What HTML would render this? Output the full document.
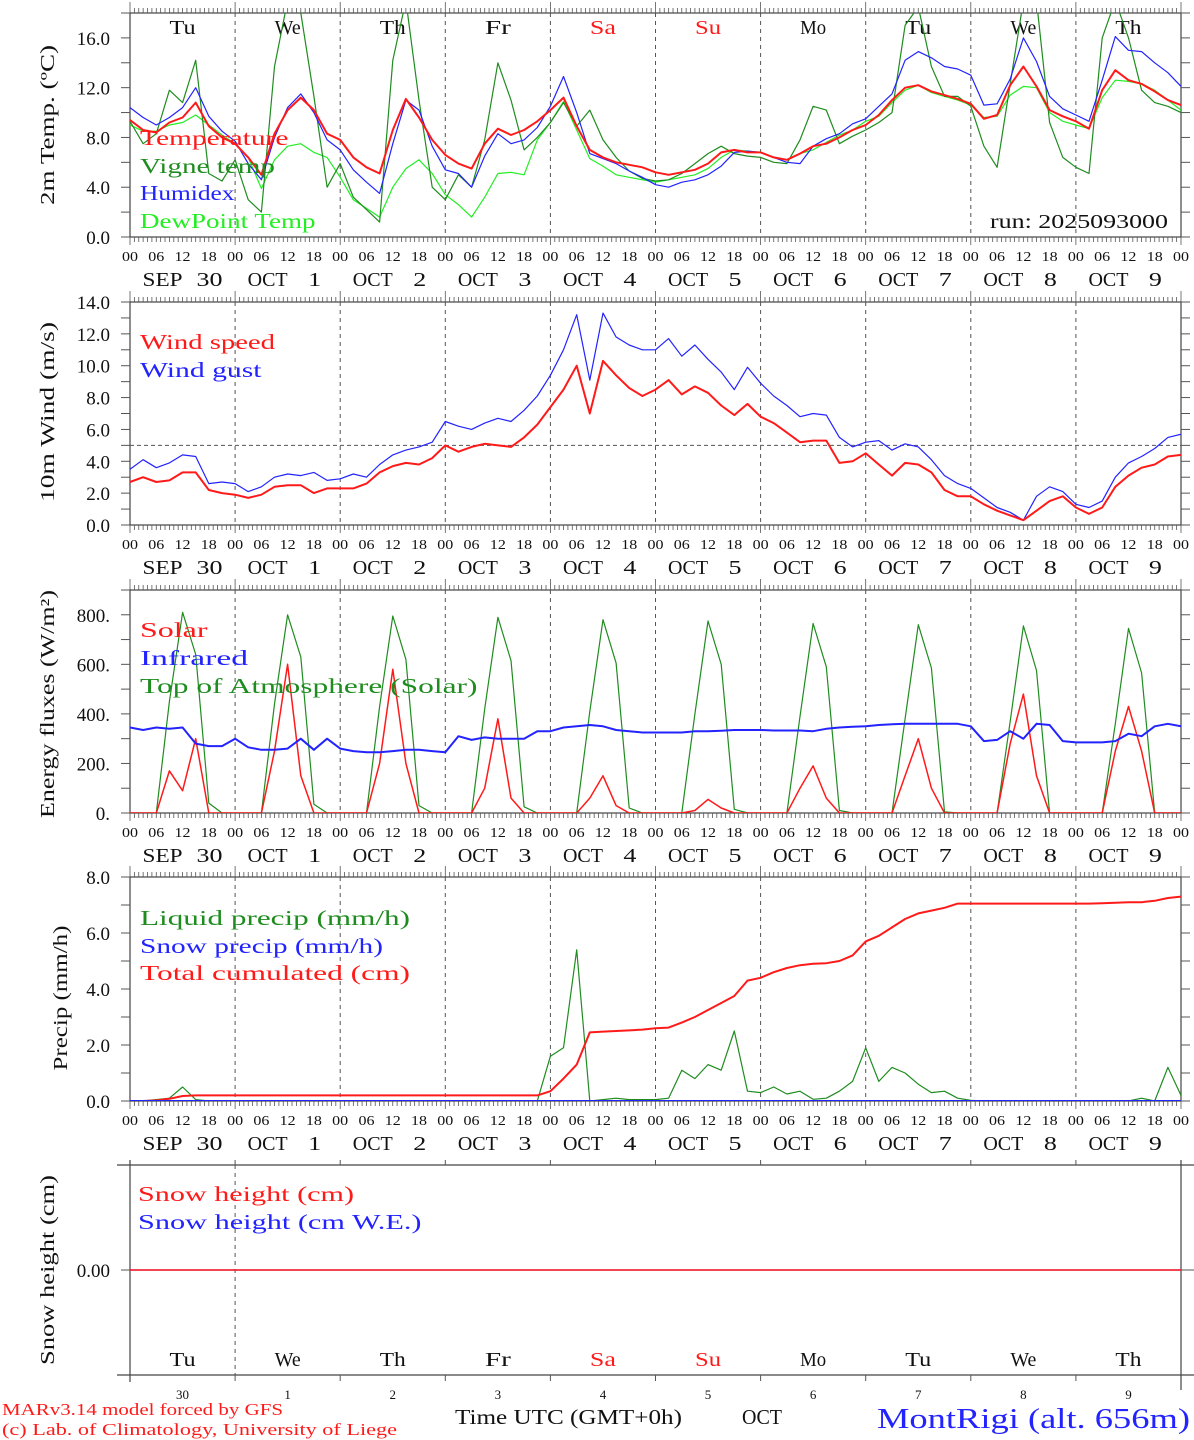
<!DOCTYPE html>
<html><head><meta charset="utf-8"><title>MAR forecast MontRigi</title>
<style>html,body{margin:0;padding:0;background:#fff}svg{display:block}text{font-family:"Liberation Serif",serif}</style>
</head><body>
<svg id="chart" xmlns="http://www.w3.org/2000/svg" width="1194" height="1440" viewBox="0 0 1194 1440"></svg>
<script>
// ---- data (3-hourly, t = 0..240 h) ----
const hours = [0,3,6,9,12,15,18,21,24,27,30,33,36,39,42,45,48,51,54,57,60,63,66,69,72,75,78,81,84,87,90,93,96,99,102,105,108,111,114,117,120,123,126,129,132,135,138,141,144,147,150,153,156,159,162,165,168,171,174,177,180,183,186,189,192,195,198,201,204,207,210,213,216,219,222,225,228,231,234,237,240];
const dayNames = ["Tu","We","Th","Fr","Sa","Su","Mo","Tu","We","Th"];
const dayMonths = ["SEP","OCT","OCT","OCT","OCT","OCT","OCT","OCT","OCT","OCT"];
const dayNums = ["30","1","2","3","4","5","6","7","8","9"];
const hourTicks = ["00","06","12","18"];
const tempTicks = [0,4,8,12,16];
const windTicks = [0,2,4,6,8,10,12,14];
const fluxTicks = [0,200,400,600,800];
const precipTicks = [0,2,4,6,8];
const temperature = [9.4,8.6,8.4,9.2,9.6,10.8,8.9,8.0, 7.5,6.4,5.0,8.3,10.2,11.2,10.2,8.3, 7.8,6.4,5.6,5.1,8.6,11.1,9.6,7.8, 6.6,5.9,5.5,7.5,8.7,8.2,8.6,9.3, 10.2,11.2,8.9,7.0,6.4,6.0,5.8,5.6, 5.2,5.0,5.2,5.4,5.9,6.8,7.0,6.8, 6.8,6.4,6.2,6.7,7.3,7.5,8.0,8.6, 9.0,9.8,11.0,12.0,12.2,11.7,11.4,11.1, 10.7,9.5,9.8,12.2,13.7,12.1,10.2,9.7, 9.3,8.7,11.8,13.4,12.6,12.3,11.7,11.0, 10.6];
const vigneTemp = [9.3,7.5,8.3,11.8,10.8,14.2,5.1,4.5, 6.2,3.0,2.0,13.7,19,18.0,11.3,4.0, 5.9,3.2,2.2,1.2,14.2,19,11.0,4.0, 3.0,5.0,4.0,7.8,14.0,11.0,7.0,8.0, 9.2,10.8,8.9,10.2,7.8,6.4,5.3,4.7, 4.5,4.6,5.1,5.9,6.7,7.3,6.7,6.5, 6.4,6.0,5.9,7.8,10.5,10.2,7.5,8.1, 8.6,9.2,10.0,17.0,18.5,13.7,11.3,11.3, 10.5,7.3,5.6,12.3,19,19,9.2,6.4, 5.6,5.1,16,19,16,11.8,10.8,10.5, 10.0];
const humidex = [10.4,9.6,9.0,9.6,10.4,12.0,9.7,8.5, 7.7,5.9,4.6,8.0,10.4,11.5,10.0,7.8, 7.0,5.4,4.4,3.5,7.5,11.0,10.2,7.3, 5.4,5.1,4.0,6.5,8.3,7.5,7.8,8.8, 10.5,12.9,10.0,6.7,6.3,5.9,5.3,4.8, 4.2,4.0,4.4,4.6,5.0,5.7,6.8,6.9, 6.8,6.4,6.0,5.9,7.3,7.9,8.3,9.1, 9.5,10.5,11.5,14.2,14.9,14.4,13.7,13.5, 13.0,10.6,10.7,12.7,16.0,14.1,11.3,10.3, 9.8,9.3,12.6,16.1,15.0,14.9,14.0,13.2, 12.1];
const dewPoint = [9.0,8.5,8.5,9.0,9.2,9.8,9.0,8.2, 7.5,6.4,3.9,6.2,7.3,7.5,6.8,6.4, 4.8,3.0,2.3,1.6,4.0,5.5,6.2,5.1, 3.4,2.6,1.6,3.2,5.1,5.2,5.0,7.8, 9.2,10.9,8.6,6.3,5.7,5.0,4.8,4.6, 4.4,4.6,4.8,5.0,5.5,6.4,7.0,6.9, 6.8,6.4,6.2,6.7,7.0,7.6,8.2,8.6, 9.3,9.7,10.8,11.8,12.2,11.6,11.3,11.0, 10.6,9.6,9.7,11.4,12.1,12.0,10.0,9.3, 9.0,8.7,11.2,12.6,12.5,12.3,11.8,11.0, 10.2];
const windSpeed = [2.7,3.0,2.7,2.8,3.3,3.3,2.2,2.0, 1.9,1.7,1.9,2.4,2.5,2.5,2.0,2.3, 2.3,2.3,2.6,3.3,3.7,3.9,3.8,4.2, 5.0,4.6,4.9,5.1,5.0,4.9,5.5,6.3, 7.4,8.5,10.0,7.0,10.3,9.4,8.6,8.1, 8.5,9.1,8.2,8.7,8.3,7.5,6.9,7.6, 6.8,6.4,5.8,5.2,5.3,5.3,3.9,4.0, 4.5,3.8,3.1,3.9,3.8,3.3,2.2,1.8, 1.8,1.3,0.9,0.6,0.3,0.9,1.5,1.8, 1.1,0.7,1.1,2.4,3.1,3.6,3.8,4.3, 4.4];
const windGust = [3.5,4.1,3.6,3.9,4.4,4.3,2.6,2.7, 2.6,2.1,2.4,3.0,3.2,3.1,3.3,2.8, 2.9,3.2,3.0,3.8,4.4,4.7,4.9,5.2, 6.5,6.2,6.0,6.4,6.7,6.5,7.2,8.1, 9.4,11.0,13.2,9.1,13.3,11.8,11.3,11.0, 11.0,11.7,10.6,11.3,10.4,9.6,8.5,9.9, 8.9,8.1,7.5,6.8,7.0,6.9,5.5,4.9, 5.2,5.3,4.7,5.1,4.9,4.1,3.1,2.6, 2.3,1.7,1.1,0.8,0.3,1.8,2.4,2.1, 1.3,1.1,1.5,3.0,3.9,4.3,4.8,5.5, 5.7];
const solar = [0,0,0,170,90,300,0,0, 0,0,0,250,600,150,0,0, 0,0,0,200,580,200,0,0, 0,0,0,100,380,60,0,0, 0,0,0,60,150,30,0,0, 0,0,0,10,55,20,0,0, 0,0,0,100,190,60,0,0, 0,0,0,150,300,100,0,0, 0,0,0,280,480,150,0,0, 0,0,0,250,430,250,0,0, 0];
const infrared = [345,335,345,340,345,280,270,270, 300,265,255,255,260,300,255,300, 260,250,245,245,250,255,255,250, 245,310,295,305,300,300,300,330, 330,345,350,355,350,335,330,325, 325,325,325,330,330,332,335,335, 335,333,333,333,330,340,345,348, 350,355,358,360,360,360,360,360, 350,290,295,330,300,360,355,290, 285,285,285,290,320,310,350,360, 350];
const toaSolar = [0,0,0,450,810,640,40,0, 0,0,0,440,800,630,35,0, 0,0,0,430,795,620,30,0, 0,0,0,420,790,615,25,0, 0,0,0,410,780,605,20,0, 0,0,0,400,775,600,15,0, 0,0,0,390,765,590,10,0, 0,0,0,380,760,585,5,0, 0,0,0,370,755,575,0,0, 0,0,0,360,745,565,0,0, 0];
const liquidPrecip = [0,0,0.05,0.1,0.5,0.05,0,0, 0,0,0,0,0,0,0,0, 0,0,0,0,0,0,0,0, 0,0,0,0,0,0,0,0, 1.6,1.9,5.4,0,0.05,0.1,0.05,0.05, 0.05,0.1,1.1,0.8,1.3,1.1,2.5,0.35, 0.3,0.5,0.25,0.35,0.06,0.1,0.35,0.7, 1.9,0.7,1.2,1.0,0.6,0.3,0.35,0.1, 0.02,0,0,0,0,0,0,0, 0,0,0,0,0,0.1,0,1.2, 0.2];
const snowPrecip = [0,0,0,0,0,0,0,0, 0,0,0,0,0,0,0,0, 0,0,0,0,0,0,0,0, 0,0,0,0,0,0,0,0, 0,0,0,0,0,0,0,0, 0,0,0,0,0,0,0,0, 0,0,0,0,0,0,0,0, 0,0,0,0,0,0,0,0, 0,0,0,0,0,0,0,0, 0,0,0,0,0,0,0,0, 0];
const totalCumulated = [0,0,0.02,0.08,0.18,0.2,0.2,0.2, 0.2,0.2,0.2,0.2,0.2,0.2,0.2,0.2, 0.2,0.2,0.2,0.2,0.2,0.2,0.2,0.2, 0.2,0.2,0.2,0.2,0.2,0.2,0.2,0.2, 0.35,0.8,1.3,2.45,2.48,2.5,2.52,2.55, 2.6,2.62,2.8,3.0,3.25,3.5,3.75,4.3, 4.4,4.6,4.75,4.85,4.9,4.92,5.0,5.2, 5.7,5.9,6.2,6.5,6.7,6.8,6.9,7.05, 7.05,7.05,7.05,7.05,7.05,7.05,7.05,7.05, 7.05,7.05,7.06,7.08,7.1,7.1,7.15,7.25, 7.3];
const snowHeight = [0,0,0,0,0,0,0,0, 0,0,0,0,0,0,0,0, 0,0,0,0,0,0,0,0, 0,0,0,0,0,0,0,0, 0,0,0,0,0,0,0,0, 0,0,0,0,0,0,0,0, 0,0,0,0,0,0,0,0, 0,0,0,0,0,0,0,0, 0,0,0,0,0,0,0,0, 0,0,0,0,0,0,0,0, 0];

const NS = "http://www.w3.org/2000/svg";
const svg = document.getElementById("chart");
const X0 = 130, X1 = 1181, HSPAN = 240;
function xs(t){ return X0 + t*(X1-X0)/HSPAN; }
function mkY(bot, top, min, max){ return v => bot - (v-min)*(bot-top)/(max-min); }
function el(tag, attrs, parent){
  const e = document.createElementNS(NS, tag);
  for (const k in attrs) e.setAttribute(k, attrs[k]);
  (parent||svg).appendChild(e);
  return e;
}
function txt(x, y, s, size, color, anchor, len, parent){
  const a = {x:x, y:y, "font-size":size, fill:color||"#000", "text-anchor":anchor||"start"};
  if (len) { a.textLength = len; a.lengthAdjust = "spacingAndGlyphs"; }
  const e = el("text", a, parent);
  e.textContent = s;
  return e;
}
const RED="#ff1a1a", DKGREEN="#1f8c1f", BLUE="#2323ff", LTGREEN="#22ee22";

function frame(name, top, bot){
  const g = el("g", {});
  
  
  el("rect", {x:X0, y:top, width:X1-X0, height:bot-top, fill:"none", stroke:"#444", "stroke-width":1.2}, g);
  for (let h=0; h<=HSPAN; h++){
    const x = xs(h), major = h%24===0;
    el("line", {x1:x, x2:x, y1:top, y2:top-(major?11:5), stroke:"#555", "stroke-width":0.8}, g);
    el("line", {x1:x, x2:x, y1:bot, y2:bot+(major?8:5), stroke:"#555", "stroke-width":0.8}, g);
  }
  for (let d=1; d<10; d++){
    el("line", {x1:xs(d*24), x2:xs(d*24), y1:top, y2:bot, stroke:"#555", "stroke-width":1, "stroke-dasharray":"4,4"}, g);
  }
  return g;
}
function yaxis(name, ticks, minorStep, y, min, max, fmt, top, bot){
  const g = el("g", {});
  
  
  for (let v=min; v<=max+1e-9; v+=minorStep){
    el("line", {x1:X0-9, x2:X0, y1:y(v), y2:y(v), stroke:"#555", "stroke-width":1}, g);
    el("line", {x1:X1, x2:X1+9, y1:y(v), y2:y(v), stroke:"#555", "stroke-width":1}, g);
  }
  ticks.forEach(v => { txt(110, y(v)+7, fmt(v), 19, "#111", "end", null, g); });
  return g;
}
function timeLabels(name, bot){
  const g = el("g", {});
  
  
  for (let h=0; h<=HSPAN; h+=6){
    txt(xs(h), bot+24, hourTicks[(h/6)%4], 14, "#111", "middle", 16, g);
  }
  for (let d=0; d<10; d++){
    const c = xs(d*24+12);
    txt(c-20, bot+49, dayMonths[d], 20, "#111", "middle", 40, g);
    txt(c+27, bot+49, dayNums[d], 20, "#111", "middle", dayNums[d].length*13, g);
  }
  return g;
}
function series(name, vals, y, color, w, clip){
  let d = "";
  vals.forEach((v,i) => { d += (i?"L":"M") + xs(hours[i]).toFixed(1) + "," + y(v).toFixed(1); });
  const p = el("path", {d:d, fill:"none", stroke:color, "stroke-width":w, "stroke-linejoin":"round"});
  if (clip) p.setAttribute("clip-path", "url(#"+clip+")");
  
  
  return p;
}
function legend(name, x, y, s, color){
  const t = txt(x, y, s, 21, color, "start", s.length*13.5);
  
  
  return t;
}
function ytitle(name, cx, cy, s, len){
  const t = txt(cx, cy+7, s, 20, "#111", "middle", len);
  t.setAttribute("transform", "rotate(-90 "+cx+" "+cy+")");
  
  
  return t;
}
const defs = el("defs", {});
function clipRect(id, top, bot){
  const c = el("clipPath", {id:id}, defs);
  el("rect", {x:X0, y:top, width:X1-X0, height:bot-top}, c);
}

// ---- Panel 1: temperature ----
const y1 = mkY(237, 13, 0, 18);
clipRect("c1", 13, 237);
frame("temperature-panel", 13, 237);
yaxis("temperature-y-axis", tempTicks, 2, y1, 0, 18, v=>v.toFixed(1), 13, 237);
timeLabels("temperature-x-axis", 237);
for (let d=0; d<10; d++){
  const t = txt(xs(d*24+12), 34, dayNames[d], 20, (d===4||d===5)?RED:"#111", "middle", 26);
  
  
}
series("dewpoint-line", dewPoint, y1, LTGREEN, 1.2, "c1");
series("vigne-temp-line", vigneTemp, y1, DKGREEN, 1.2, "c1");
series("humidex-line", humidex, y1, BLUE, 1.2, "c1");
series("temperature-line", temperature, y1, RED, 2, "c1");
legend("legend-temperature", 140, 145, "Temperature", RED);
legend("legend-vigne-temp", 140, 173, "Vigne temp", DKGREEN);
legend("legend-humidex", 140, 200, "Humidex", BLUE);
legend("legend-dewpoint", 140, 228, "DewPoint Temp", LTGREEN);
const run = txt(990, 228, "run: 2025093000", 20, "#111", "start", 178);


ytitle("temperature-y-title", 47, 125, "2m Temp. (ºC)", 160);

// ---- Panel 2: wind ----
const y2 = mkY(525, 302, 0, 14);
clipRect("c2", 302, 525);
frame("wind-panel", 302, 525);
const ref = el("line", {x1:X0, x2:X1, y1:y2(5), y2:y2(5), stroke:"#555", "stroke-width":1, "stroke-dasharray":"4,3"});


yaxis("wind-y-axis", windTicks, 1, y2, 0, 14, v=>v.toFixed(1), 302, 525);
timeLabels("wind-x-axis", 525);
series("wind-gust-line", windGust, y2, BLUE, 1.2, "c2");
series("wind-speed-line", windSpeed, y2, RED, 2, "c2");
legend("legend-wind-speed", 140, 349, "Wind speed", RED);
legend("legend-wind-gust", 140, 377, "Wind gust", BLUE);
ytitle("wind-y-title", 47, 412, "10m Wind (m/s)", 180);

// ---- Panel 3: energy ----
const y3 = mkY(813, 590, 0, 900);
clipRect("c3", 590, 813);
frame("energy-panel", 590, 813);
yaxis("energy-y-axis", fluxTicks, 100, y3, 0, 900, v=>v+".", 590, 813);
timeLabels("energy-x-axis", 813);
series("toa-solar-line", toaSolar, y3, DKGREEN, 1.2, "c3");
series("solar-line", solar, y3, RED, 1.5, "c3");
series("infrared-line", infrared, y3, BLUE, 2, "c3");
legend("legend-solar", 140, 637, "Solar", RED);
legend("legend-infrared", 140, 665, "Infrared", BLUE);
legend("legend-toa", 140, 693, "Top of Atmosphere (Solar)", DKGREEN);
ytitle("energy-y-title", 47, 704, "Energy fluxes (W/m²)", 228);

// ---- Panel 4: precip ----
const y4 = mkY(1101, 877, 0, 8);
clipRect("c4", 877, 1101);
frame("precip-panel", 877, 1101);
yaxis("precip-y-axis", precipTicks, 1, y4, 0, 8, v=>v.toFixed(1), 877, 1101);
timeLabels("precip-x-axis", 1101);
series("liquid-precip-line", liquidPrecip, y4, DKGREEN, 1.2, "c4");
series("total-cumulated-line", totalCumulated, y4, RED, 2, "c4");
series("snow-precip-line", snowPrecip, y4, BLUE, 2, "c4");
legend("legend-liquid-precip", 140, 925, "Liquid precip (mm/h)", DKGREEN);
legend("legend-snow-precip", 140, 953, "Snow precip (mm/h)", BLUE);
legend("legend-total-cumulated", 140, 980, "Total cumulated (cm)", RED);
ytitle("precip-y-title", 60, 998, "Precip (mm/h)", 145);

// ---- Panel 5: snow height ----
const y5 = v => 1270 - v*100;
const g5 = el("g", {});


el("line", {x1:117, x2:1194, y1:1165, y2:1165, stroke:"#444", "stroke-width":1.2}, g5);
el("line", {x1:117, x2:1194, y1:1375, y2:1375, stroke:"#444", "stroke-width":1.2}, g5);
el("line", {x1:X0, x2:X0, y1:1160, y2:1382, stroke:"#444", "stroke-width":1.2}, g5);
el("line", {x1:X1, x2:X1, y1:1160, y2:1390, stroke:"#444", "stroke-width":1.2}, g5);
el("line", {x1:xs(24), x2:xs(24), y1:1165, y2:1375, stroke:"#555", "stroke-width":1, "stroke-dasharray":"4,4"}, g5);
el("line", {x1:X0-9, x2:X0, y1:1270, y2:1270, stroke:"#555", "stroke-width":1}, g5);
el("line", {x1:X1, x2:1194, y1:1270, y2:1270, stroke:"#555", "stroke-width":1}, g5);
for (let d=1; d<10; d++){
  el("line", {x1:xs(d*24), x2:xs(d*24), y1:1160, y2:1165, stroke:"#555", "stroke-width":1}, g5);
  el("line", {x1:xs(d*24), x2:xs(d*24), y1:1375, y2:1381, stroke:"#555", "stroke-width":1}, g5);
}
txt(110, 1277, "0.00", 19, "#111", "end", null, g5);
series("snow-height-we-line", snowHeight, y5, BLUE, 1.2);
series("snow-height-line", snowHeight, y5, RED, 1.5);
legend("legend-snow-height", 138, 1201, "Snow height (cm)", RED);
legend("legend-snow-height-we", 138, 1229, "Snow height (cm W.E.)", BLUE);
ytitle("snow-y-title", 47, 1270, "Snow height (cm)", 190);
for (let d=0; d<10; d++){
  const t = txt(xs(d*24+12), 1366, dayNames[d], 20, (d===4||d===5)?RED:"#111", "middle", 26);
  
  
  const n = txt(xs(d*24+12), 1399, dayNums[d], 13, "#111", "middle", null);
  
  
}

// ---- footer ----
const f1 = txt(2, 1415, "MARv3.14 model forced by GFS", 17, RED, "start", 281);


const f2 = txt(2, 1435, "(c) Lab. of Climatology, University of Liege", 17, RED, "start", 395);


const f3 = txt(455, 1424, "Time UTC (GMT+0h)", 21, "#111", "start", 227);


const f4 = txt(742, 1424, "OCT", 21, "#111", "start", 40);


const f5 = txt(877, 1428, "MontRigi (alt. 656m)", 29, BLUE, "start", 313);


</script>
</body></html>
